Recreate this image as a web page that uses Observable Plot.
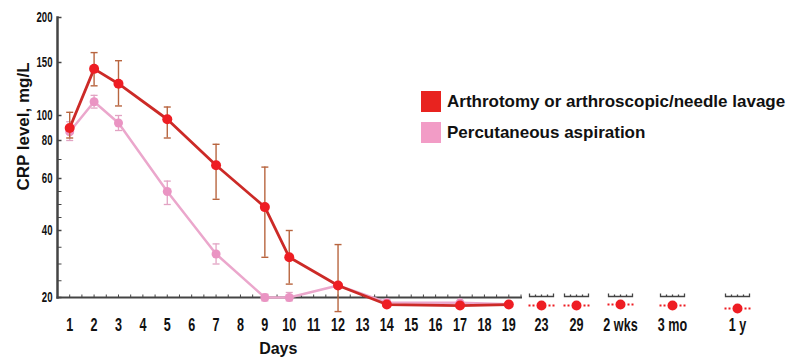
<!DOCTYPE html>
<html><head><meta charset="utf-8">
<script src="https://cdn.jsdelivr.net/npm/d3@7"></script>
<script src="https://cdn.jsdelivr.net/npm/@observablehq/plot@0.6"></script>
<style>
body{margin:0;background:#fff;}
#wrap{position:relative;width:805px;height:360px;}
#legend{position:absolute;left:421px;top:86px;font-family:"Liberation Sans",Arial,sans-serif;font-weight:bold;font-size:17px;color:#111;}
.item{display:flex;align-items:center;height:31px;}
.sw{width:20px;height:21px;margin-right:6px;flex:none;}
</style></head><body><div id="wrap"><div id="legend"></div></div>
<script>
// x categories (tick labels)
const dayLabels = ["1","2","3","4","5","6","7","8","9","10","11","12","13","14","15","16","17","18","19","23","29","2 wks","3 mo","1 y"];
const yTicks = [20, 40, 60, 80, 100, 150, 200];
const yMinorTicks = [25, 30, 35, 45, 50, 55, 70];

// Series 1: Arthrotomy or arthroscopic/needle lavage
const arthName = "Arthrotomy or arthroscopic/needle lavage";
const arthDays = ["1","2","3","5","7","9","10","12","14","17","19"];
const arthMean = [90, 144, 130, 97, 67, 49, 32, 23.6, 17.9, 17.6, 17.9];
const arthLow  = [82, 128, 109, 82, 52, 32, 24, 15.8, null, null, null];
const arthHigh = [103, 161, 152, 108, 78, 66, 40, 35.8, null, null, null];
const followDays = ["23","29","2 wks","3 mo","1 y"];
const followMean = [17.6, 17.6, 17.9, 17.6, 16.7];

// Series 2: Percutaneous aspiration
const percName = "Percutaneous aspiration";
const percDays = ["1","2","3","5","7","9","10","12","14","17","19"];
const percMean = [87, 113, 94, 55, 33, 20, 20, 23.6, 18.5, 18.4, 18.0];
const percLow  = [80, 107, 88, 50, 30, 19, 19, null, null, null, null];
const percHigh = [95, 119, 100, 59, 36, 21, 21.5, null, null, null, null];

const RED = "#ee1d23", RED_LINE = "#cc2a27", RED_BAR = "#b8653f";
const PINK = "#ea94c3", PINK_LINE = "#eba7cc", PINK_BAR = "#e2a3c3";
const AXIS = "#444";
const SANS = "'Liberation Sans',Arial,sans-serif";

const idx = l => dayLabels.indexOf(l);
const rows = (days, mean, low, high) => days.map((d, i) => ({x: idx(d), y: mean[i], lo: low ? low[i] : null, hi: high ? high[i] : null}));
const arth = rows(arthDays, arthMean, arthLow, arthHigh);
const perc = rows(percDays, percMean, percLow, percHigh);
const follow = rows(followDays, followMean);
const arthBars = arth.filter(d => d.lo != null);
const percBars = perc.filter(d => d.lo != null);

const sym = fn => ({draw(c) { fn(c); }});
const capSym = sym(c => { c.moveTo(-3.5, 0); c.lineTo(3.5, 0); });
const tickRight = sym(c => { c.moveTo(0, 0); c.lineTo(4, 0); });
const tickUp = sym(c => { c.moveTo(0, 0); c.lineTo(0, -3); });
const segSym = sym(c => { c.moveTo(-12, -3); c.lineTo(-12, 0); c.lineTo(12, 0); c.lineTo(12, -3); c.moveTo(0, 0); c.lineTo(0, -2); c.moveTo(-6,0); c.lineTo(-6,-2); c.moveTo(6,0); c.lineTo(6,-2); });
const dottedSym = sym(c => { for (const [a, b] of [[-13, -11], [-9, -7], [7, 9], [11, 13]]) { c.moveTo(a, 0); c.lineTo(b, 0); } });

const xTickIdx = dayLabels.map((d, i) => i);
const halfTicks = d3.range(0, 18.75, 0.5);
const followIdx = followDays.map(idx);

const chart = Plot.plot({
  width: 805, height: 360,
  marginLeft: 57, marginRight: 284.5, marginTop: 17, marginBottom: 63,
  style: {background: "#fff", overflow: "visible"},
  x: {type: "linear", domain: [-0.5, 18.5, 19, 20, 21, 22, 23], range: [57, 520.5, 541, 576, 620, 672, 737]},
  y: {type: "linear", domain: [10, 20, 40, 60, 80, 100, 150, 200], range: [330.5, 297, 230, 178, 140, 115, 62, 17]},
  marks: [
    Plot.frame({anchor: "left", stroke: AXIS, strokeWidth: 2.5}),
    Plot.frame({anchor: "bottom", stroke: AXIS, strokeWidth: 2}),
    Plot.dot(yTicks, {y: d => d, frameAnchor: "left", symbol: tickRight, stroke: AXIS, strokeWidth: 1.5, fill: "none"}),
    Plot.dot(yMinorTicks, {y: d => d, frameAnchor: "left", symbol: tickRight, stroke: AXIS, strokeWidth: 1, fill: "none"}),
    Plot.dot(halfTicks, {x: d => d, frameAnchor: "bottom", symbol: tickUp, stroke: AXIS, strokeWidth: 1, fill: "none"}),
    Plot.dot(followIdx, {x: d => d, y: () => 20, dy: -1, symbol: segSym, stroke: AXIS, strokeWidth: 1.3, fill: "none"}),
    Plot.axisX({ticks: xTickIdx, tickFormat: i => dayLabels[i], tickSize: 0, tickPadding: 21, fontSize: 18, fontWeight: "bold", fontFamily: SANS, fill: "#111", label: null}),
    Plot.axisY({ticks: yTicks, tickSize: 0, tickPadding: 5, fontSize: 15, fontWeight: "bold", fontFamily: SANS, fill: "#111", label: null}),
    Plot.text(["CRP level, mg/L"], {frameAnchor: "left", textAnchor: "middle", dx: -34, dy: -31, rotate: -90, fontSize: 17, fontWeight: "bold", fontFamily: SANS, fill: "#111"}),
    Plot.text(["Days"], {frameAnchor: "bottom", dx: -11, dy: 56, fontSize: 16, fontWeight: "bold", fontFamily: SANS, fill: "#111"}),
    // Percutaneous aspiration
    Plot.ruleX(percBars, {x: "x", y1: "lo", y2: "hi", stroke: PINK_BAR, strokeWidth: 1.3}),
    Plot.dot(percBars, {x: "x", y: "lo", symbol: capSym, stroke: PINK_BAR, strokeWidth: 1.3, fill: "none"}),
    Plot.dot(percBars, {x: "x", y: "hi", symbol: capSym, stroke: PINK_BAR, strokeWidth: 1.3, fill: "none"}),
    Plot.line(perc, {x: "x", y: "y", stroke: PINK_LINE, strokeWidth: 2.5}),
    Plot.dot(perc, {x: "x", y: "y", r: 4.5, fill: PINK}),
    // Arthrotomy
    Plot.ruleX(arthBars, {x: "x", y1: "lo", y2: "hi", stroke: RED_BAR, strokeWidth: 1.4}),
    Plot.dot(arthBars, {x: "x", y: "lo", symbol: capSym, stroke: RED_BAR, strokeWidth: 1.4, fill: "none"}),
    Plot.dot(arthBars, {x: "x", y: "hi", symbol: capSym, stroke: RED_BAR, strokeWidth: 1.4, fill: "none"}),
    Plot.line(arth, {x: "x", y: "y", stroke: RED_LINE, strokeWidth: 2.8}),
    Plot.dot(arth, {x: "x", y: "y", r: 5, fill: RED}),
    Plot.dot(follow, {x: "x", y: "y", symbol: dottedSym, stroke: RED, strokeWidth: 2, fill: "none"}),
    Plot.dot(follow, {x: "x", y: "y", r: 5, fill: RED})
  ]
});
// condensed look of the tick labels
chart.querySelectorAll('g[aria-label="x-axis tick label"] text').forEach(t => {
  t.setAttribute("transform", (t.getAttribute("transform") || "") + " scale(0.7,1)");
});
chart.querySelectorAll('g[aria-label="y-axis tick label"] text').forEach(t => {
  t.setAttribute("transform", (t.getAttribute("transform") || "") + " scale(0.64,1)");
});
document.getElementById("wrap").prepend(chart);

const legend = document.getElementById("legend");
for (const [name, color] of [[arthName, "#e8231f"], [percName, "#f29cc6"]]) {
  const item = document.createElement("div");
  item.className = "item";
  const sw = document.createElement("span");
  sw.className = "sw"; sw.style.background = color;
  const t = document.createElement("span");
  t.textContent = name;
  item.append(sw, t);
  legend.append(item);
}
</script>
</body></html>
